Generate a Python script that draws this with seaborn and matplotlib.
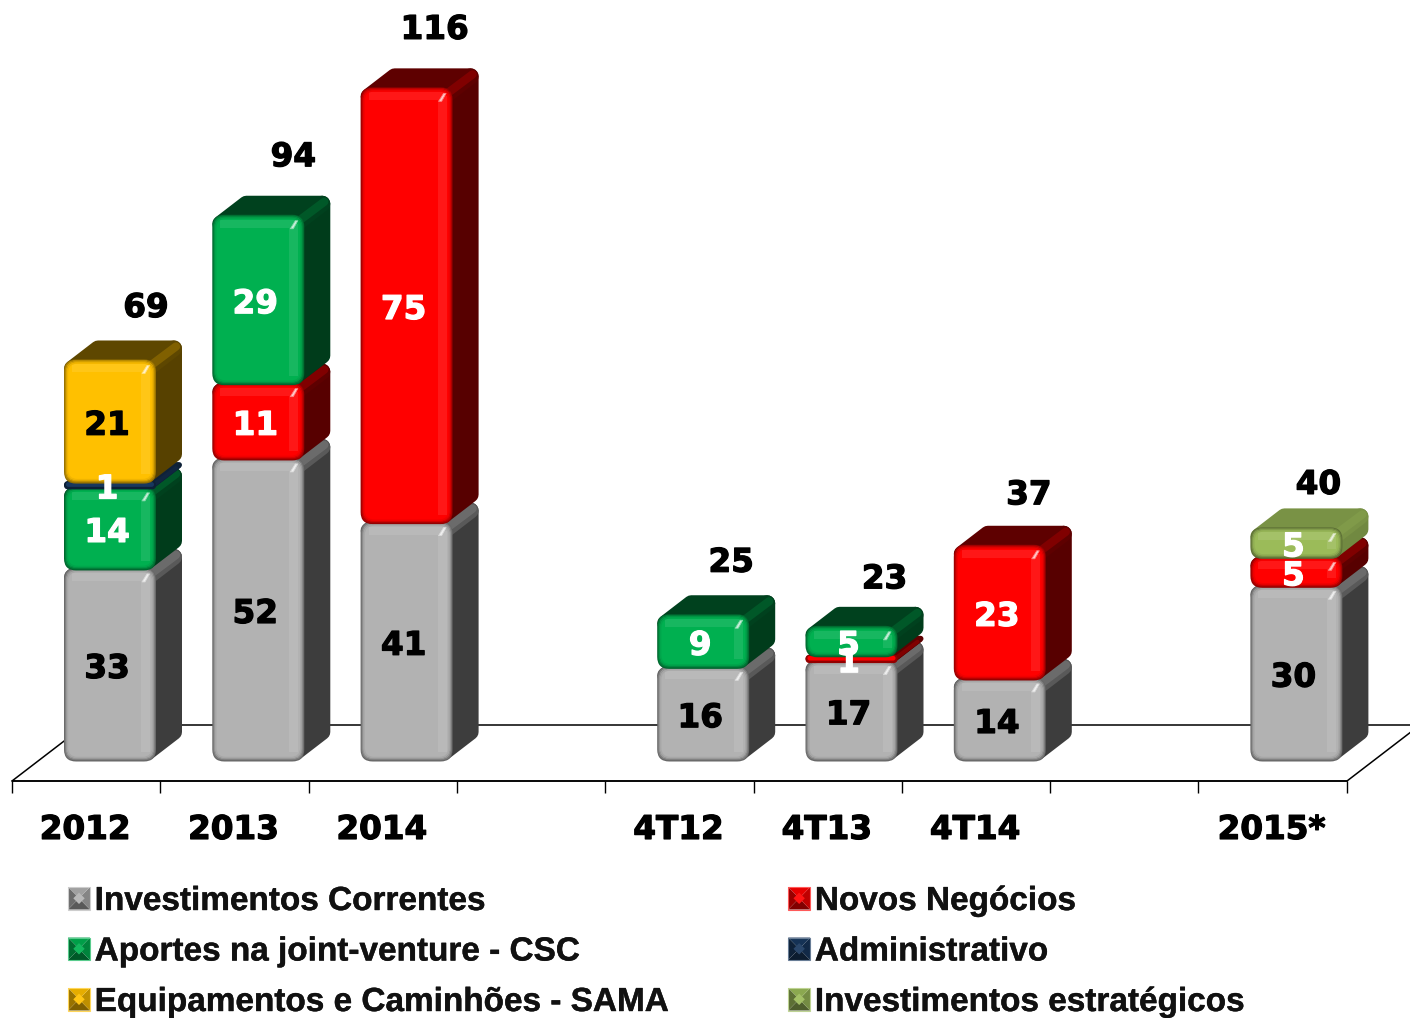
import matplotlib
matplotlib.use("Agg")
import matplotlib.pyplot as plt
import matplotlib.patheffects as pe
import pandas as pd
import seaborn as sns
from matplotlib.colors import to_rgb
from matplotlib.legend_handler import HandlerBase
from matplotlib.patches import FancyBboxPatch, Patch, Polygon, Rectangle

periods = ["2012", "2013", "2014", "4T12", "4T13", "4T14", "2015*"]
slots = [0, 1, 2, 4, 5, 6, 8]
correntes = [33, 52, 41, 16, 17, 14, 30]
novos = [0, 13, 75, 0, 1, 23, 5]          # drawn height (2013 is taller than its printed 11)
novos_printed = [0, 11, 75, 0, 1, 23, 5]
aportes = [14, 29, 0, 9, 5, 0, 0]
administrativo = [1, 0, 0, 0, 0, 0, 0]
equipamentos = [21, 0, 0, 0, 0, 0, 0]
estrategicos = [0, 0, 0, 0, 0, 0, 5]
totals = [69, 94, 116, 25, 23, 37, 40]

names = ["Investimentos Correntes", "Novos Negócios", "Aportes na joint-venture - CSC",
         "Administrativo", "Equipamentos e Caminhões - SAMA", "Investimentos estratégicos"]
values = [correntes, novos, aportes, administrativo, equipamentos, estrategicos]
printed = [correntes, novos_printed, aportes, administrativo, equipamentos, estrategicos]
colors = ["#B2B2B2", "#FF0000", "#00B050", "#17375E", "#FFC000", "#9BBB59"]
text_colors = ["black", "white", "white", "white", "black", "white"]
side_dark = [0.66, 0.66, 0.66, 0.4, 0.66, 0.27]
top_dark = [0.5, 0.63, 0.63, 0.4, 0.63, 0.22]
total_offsets = [(36, 53), (35, 59), (28, 59), (28, 53), (33, 48), (29, 51), (22, 44)]

PX, PY = 148.3, 5.79   # pixels per slot / per unit
DX, DY = 26, 20        # depth of the 3-D look, in pixels
HEAVY = [pe.withStroke(linewidth=0.9, foreground="black")]


def mix(c, other, t):
    a, b = to_rgb(c), to_rgb(other)
    return tuple(a[i] * (1 - t) + b[i] * t for i in range(3))


def X(p):
    return (p - 110) / PX


def Y(p):
    return (760 - p) / PY


sns.set_style("white")
plt.rcParams["font.family"] = ["DejaVu Sans"]
fig = plt.figure(figsize=(14.1, 10.18), dpi=100, facecolor="white")
ax = fig.add_axes([12 / 1410, 1 - 781 / 1018, 1335 / 1410, 781 / 1018])
ax.patch.set_alpha(0)

df = pd.DataFrame(
    [{"slot": s, "serie": n, "valor": v[i]} for n, v in zip(names, values) for i, s in enumerate(slots)]
)
sns.histplot(df, x="slot", weights="valor", hue="serie", hue_order=names[::-1],
             palette=dict(zip(names, colors)), multiple="stack", discrete=True,
             shrink=92 / PX, alpha=1, linewidth=0, legend=False, ax=ax)
ax.set_xlim(X(12), X(1347))
ax.set_ylim(Y(781), Y(0))
ax.set_xlabel("")
ax.set_ylabel("")
sns.despine(ax=ax, left=True, top=True, right=True)

# floor
ax.add_patch(Polygon([(X(12), Y(781)), (X(85), Y(725)), (X(1420), Y(725)), (X(1347), Y(781))],
                     closed=True, fill=False, ec="black", lw=1.1, clip_on=False, zorder=1))

# x axis
edges = [X(12) + i for i in range(10)]
ax.set_xticks(edges)
ax.set_xticklabels([])
ax.set_xticks([s + X(12) - X(110) + 0.5 - 1 / PX for s in slots], periods, minor=True)
ax.tick_params(axis="x", which="major", length=8.6, width=1.0, color="black", bottom=True)
ax.tick_params(axis="x", which="minor", length=0, pad=23, labelsize=23.5, labelcolor="black")
for t in ax.get_xticklabels(minor=True):
    t.set_fontweight("bold")
    t.set_path_effects(HEAVY)
ax.set_yticks([])
ax.spines["bottom"].set_linewidth(1.1)
ax.spines["bottom"].set_color("black")

# rebuild each histplot bar as a bevelled box, using its own extents
segments = [r for c in ax.containers for r in c if r.get_height() > 0]
segments.sort(key=lambda r: r.get_y())
rgb_lookup = {to_rgb(c): i for i, c in enumerate(colors)}


def rounded(x0, y0, x1, y1, r, **kw):
    r = max(min(r, (y1 - y0) * PY / 2 - 0.01), 0.5)
    return FancyBboxPatch((x0, y0), x1 - x0, y1 - y0,
                          boxstyle=f"round,pad=0,rounding_size={r / PX}",
                          mutation_aspect=PX / PY, clip_on=False, **kw)


z = 3.0
for rect in segments:
    face = tuple(rect.get_facecolor()[:3])
    idx = rgb_lookup[min(rgb_lookup, key=lambda c: sum((c[k] - face[k]) ** 2 for k in range(3)))]
    L, B = rect.get_x(), rect.get_y()
    R, T = L + rect.get_width(), B + rect.get_height()
    hpx = (T - B) * PY
    ddx, ddy = DX / PX, DY / PY
    rad = min(8, hpx / 2)
    in_x, in_y = rad / PX, rad / PY
    side = mix(face, "black", side_dark[idx])
    top = mix(face, "black", top_dark[idx])
    lw = 2 * rad * 0.72
    z += 1
    ax.add_patch(Polygon([(R - in_x, B + in_y), (R + ddx - in_x, B + ddy + in_y), (R + ddx - in_x, T + ddy - in_y),
                          (R - in_x, T - in_y)], closed=True, fc=side, ec=side, lw=lw, joinstyle="round",
                         clip_on=False, zorder=z))
    ax.add_patch(Polygon([(L + in_x, T - in_y), (L + ddx + in_x, T + ddy - in_y), (R + ddx - in_x, T + ddy - in_y),
                          (R - in_x, T - in_y)], closed=True, fc=top, ec=top, lw=lw, joinstyle="round",
                         clip_on=False, zorder=z))
    ax.plot([R - 4 / PX, R + ddx - 6 / PX], [T - 4 / PY, T + ddy - 6 / PY], color=mix(face, "black", top_dark[idx] * 0.7),
            lw=min(6, hpx * 0.5), solid_capstyle="round", zorder=z, alpha=0.7, clip_on=False)

    base = rounded(L, B - 1.5 / PY, R, T + 1 / PY, 12, fc=mix(face, "black", 0.42), ec="none", zorder=z + 0.1)
    ax.add_patch(base)
    rect.set_zorder(z + 0.2)
    inner = rounded(L + 2 / PX, B + 1 / PY, R - 2 / PX, T, 10, fc="none", ec="none", zorder=z + 0.2)
    ax.add_patch(inner)
    rect.set_clip_path(inner)
    if hpx > 10:
        for k, t in [(1.5, 0.3), (2.5, 0.16), (3.5, 0.06)]:
            ax.add_patch(rounded(L + k / PX, B + (k - 1) / PY, R - k / PX, T - (k - 1) / PY, 10, fc="none",
                                 ec=mix(face, "black", t), lw=1.0, zorder=z + 0.3))
        band = mix(face, "white", 0.09)
        ax.add_patch(Rectangle((L + 8 / PX, T - 12 / PY), (R - L) - 16 / PX, 8 / PY, fc=band, ec="none", zorder=z + 0.25))
        ax.add_patch(Rectangle((R - 15 / PX, B + 8 / PY), 9 / PX, (T - B) - 16 / PY, fc=band, ec="none", zorder=z + 0.25))
    if hpx > 20:
        ax.add_patch(Polygon([(R - 14 / PX, T - 13 / PY), (R - 9 / PX, T - 5 / PY), (R - 6.5 / PX, T - 5 / PY),
                              (R - 11 / PX, T - 13 / PY)], closed=True, fc=mix(face, "white", 0.8),
                             ec=mix(face, "white", 0.5), lw=0.6, joinstyle="round", zorder=z + 0.4))

# value labels
cum = [0] * len(slots)
for series, shown, tc in zip(values, printed, text_colors):
    for i, v in enumerate(series):
        if v:
            ax.annotate(str(shown[i]), xy=(slots[i], cum[i] + v / 2), xytext=(-3, -4), textcoords="offset pixels",
                        ha="center", va="center", fontsize=23.5, fontweight="bold", color=tc, zorder=100,
                        path_effects=[pe.withStroke(linewidth=0.9, foreground=tc)])
            cum[i] += v
for s, total, (dx, dy) in zip(slots, totals, total_offsets):
    ax.annotate(str(total), xy=(s, total), xytext=(dx, dy), textcoords="offset pixels", ha="center", va="center",
                fontsize=23.5, fontweight="bold", color="black", zorder=100, annotation_clip=False, path_effects=HEAVY)


# legend with pyramid-style markers
class BevelHandler(HandlerBase):
    def create_artists(self, legend, orig, xd, yd, w, h, fontsize, trans):
        c = orig.get_facecolor()[:3]
        x0, y0, x1, y1 = -xd, -yd, -xd + w, -yd + h
        cx, cy = (x0 + x1) / 2, (y0 + y1) / 2
        corners = [(x0, y0), (x1, y0), (x1, y1), (x0, y1)]
        shades = [mix(c, "black", 0.5), mix(c, "black", 0.25), mix(c, "black", 0.1), mix(c, "black", 0.4)]
        arts = []
        for i, sh in enumerate(shades):
            arts.append(Polygon([corners[i], corners[(i + 1) % 4], (cx, cy)], closed=True, fc=sh, ec="none", transform=trans))
        s = w * 0.26
        arts.append(Polygon([(cx - s, cy), (cx, cy - s), (cx + s, cy), (cx, cy + s)], closed=True,
                            fc=mix(c, "white", 0.08), ec="none", transform=trans))
        arts.append(Rectangle((x0, y0), x1 - x0, y1 - y0, fc="none", ec=mix(c, "white", 0.35), lw=0.8, transform=trans))
        return arts


order = [0, 2, 4, 1, 3, 5]
handles = [Patch(facecolor=colors[i], label=names[i]) for i in order]
leg = fig.legend(handles=handles, loc="lower left", bbox_to_anchor=(68 / 1410, 0), ncol=2,
                 frameon=False, handler_map={Patch: BevelHandler()},
                 prop={"family": "Liberation Sans", "weight": "bold", "size": 24},
                 handlelength=0.66, handleheight=0.66, handletextpad=0.14, columnspacing=3.54,
                 labelspacing=0.585, borderpad=0, borderaxespad=0)
for t in leg.get_texts():
    t.set_color("#111111")
    t.set_path_effects([pe.withStroke(linewidth=0.3, foreground="#111111")])

fig.savefig("out.png", dpi=100, facecolor="white")
